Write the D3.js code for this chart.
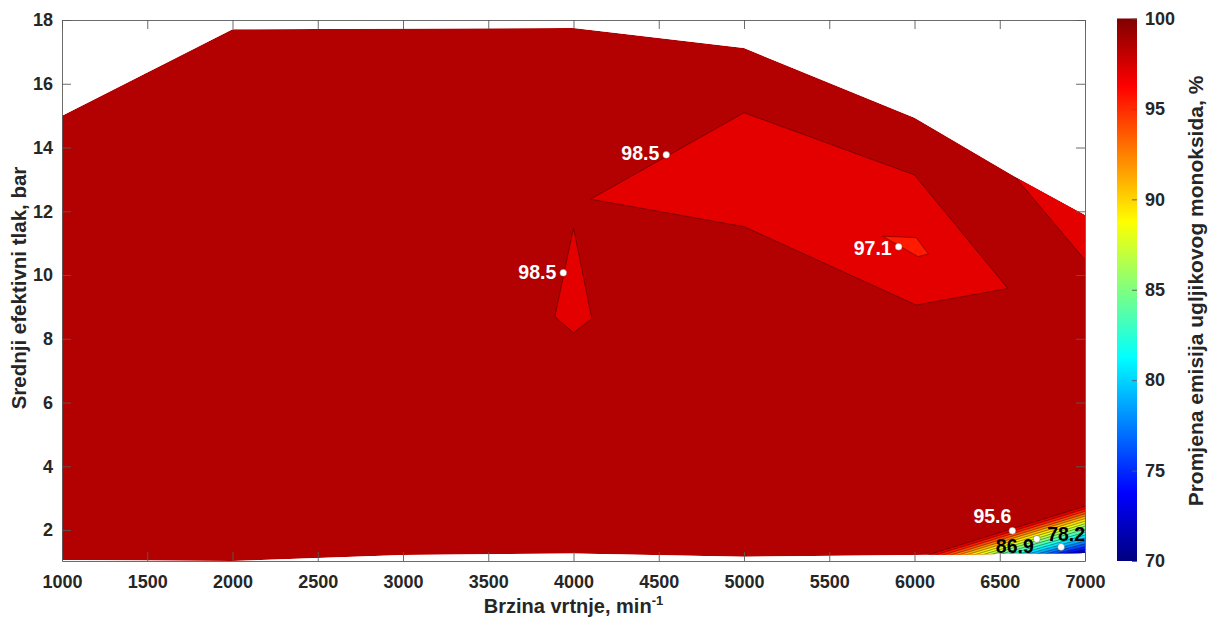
<!DOCTYPE html>
<html><head><meta charset="utf-8">
<script src="https://cdn.jsdelivr.net/npm/d3@7"></script>
<style>
body{margin:0;background:#fff;}
text{font-family:"Liberation Sans",Arial,sans-serif;font-weight:bold;fill:#262626;}
</style>
</head><body>
<svg id="chart" width="1210" height="625"></svg>
<script>
// ---------------- data ----------------
const xTicks = [1000,1500,2000,2500,3000,3500,4000,4500,5000,5500,6000,6500,7000];
const yTicks = [2,4,6,8,10,12,14,16,18];
const cbTicks = [70,75,80,85,90,95,100];

// outline of measured region (speed min^-1, BMEP bar) -> band >= 98.5
const hullSpeed = [1000,2000,4000,5000,6000,6590,7000,7000,6000,5000,4000,3000,2000,1000];
const hullBmep  = [15.0,17.71,17.75,17.12,14.93,13.08,11.88,1.28,1.22,1.165,1.265,1.22,1.03,1.06];
const hullLevel = 98.5;

// contour regions (level = lower bound of band)
const bigSpeed = [4100,5000,6000,6547,6010,5000];
const bigBmep  = [12.38,15.09,13.14,9.58,9.06,11.52];
const bigLevel = 97;

const spikeSpeed = [4000,4107,4000,3891];
const spikeBmep  = [11.47,8.64,8.19,8.69];
const spikeLevel = 97;

const edgeSpeed = [6590,7000,7000];
const edgeBmep  = [13.08,11.88,10.47];
const edgeLevel = 97;

const smallSpeed = [5813,6010,6082,6020];
const smallBmep  = [11.22,11.17,10.66,10.58];
const smallLevel = 95.5;

// steep region in bottom-right corner: contour levels, where each line meets bottom edge and right edge
const cornerLevels      = [98.5,97,95.5,94,92.5,91,89.5,88,86.5,85,83.5,82,80.5,79,77.5,76,74.5,73,71.5];
const cornerBottomSpeed = [6050,6097,6144,6191,6237,6284,6331,6378,6425,6478,6531,6583,6636,6689,6742,6795,6847,6894,6941];
const cornerEdgeBmep    = [2.85,2.77,2.69,2.61,2.54,2.46,2.38,2.30,2.22,2.13,2.03,1.94,1.85,1.75,1.66,1.56,1.47,1.39,1.33];

// labelled measurement points
const ptSpeed = [4544,3940,5907,6574,6717,6860];
const ptBmep  = [13.77,10.07,10.89,1.98,1.72,1.47];
const ptValue = [98.5,98.5,97.1,95.6,86.9,78.2];

// ---------------- layout / style ----------------
const labelStyle = [
  {dx:-7, dy:5.5, anchor:"end", fill:"#fff"},
  {dx:-7, dy:6.5, anchor:"end", fill:"#fff"},
  {dx:-7, dy:8.5, anchor:"end", fill:"#fff"},
  {dx:-1, dy:-7.5, anchor:"end", fill:"#fff"},
  {dx:-3, dy:13.5, anchor:"end", fill:"#000"},
  {dx:-14, dy:-5.5, anchor:"start", fill:"#000"}
];
const step = 1.5;

const svg = d3.select("#chart");
const x = d3.scaleLinear().domain([1000,7000]).range([62,1085]);
const y = d3.scaleLinear().domain([1.03,18]).range([561,20]);

function clamp(v){return Math.max(0,Math.min(1,v));}
function jet(t){
  const r = clamp(Math.min(4*t-1.5,-4*t+4.5));
  const g = clamp(Math.min(4*t-0.5,-4*t+3.5));
  const b = clamp(Math.min(4*t+0.5,-4*t+2.5));
  return d3.rgb(Math.round(r*255),Math.round(g*255),Math.round(b*255)).formatHex();
}
const color = d3.scaleSequential([70,100], jet);

const pts = (sx,sy)=> sx.map((v,i)=>[x(v),y(sy[i])]);
const line = d3.line();
const closed = d3.line().curve(d3.curveLinearClosed);

// clip to measured region
const defs = svg.append("defs");
defs.append("clipPath").attr("id","hullclip")
  .append("path").attr("d", closed(pts(hullSpeed,hullBmep)));

const plot = svg.append("g").attr("clip-path","url(#hullclip)");
plot.append("path").attr("d", closed(pts(hullSpeed,hullBmep))).attr("fill", color(hullLevel));

const cstroke = {stroke:"#000", w:0.6, op:0.6};
function region(sx, sy, lvl, outline){
  plot.append("path").attr("d", closed(pts(sx,sy))).attr("fill", color(lvl))
    .attr("stroke", outline? cstroke.stroke : "none")
    .attr("stroke-width", cstroke.w).attr("stroke-opacity", cstroke.op)
    .attr("stroke-linejoin","round");
}
region(bigSpeed,bigBmep,bigLevel,true);
region(spikeSpeed,spikeBmep,spikeLevel,true);
region(edgeSpeed,edgeBmep,edgeLevel,false);
plot.append("path").attr("d", line([[x(edgeSpeed[0]),y(edgeBmep[0])],[x(edgeSpeed[2]),y(edgeBmep[2])]]))
  .attr("fill","none").attr("stroke",cstroke.stroke).attr("stroke-width",cstroke.w).attr("stroke-opacity",cstroke.op);
region(smallSpeed,smallBmep,smallLevel,true);

// corner bands
const xMaxD = 7000, yLowD = 0.6;
function bottomAt(s){ // bottom boundary between 6000 and 7000
  return 1.22 + (s-6000)/1000*(1.28-1.22);
}
cornerLevels.forEach((lvl,i)=>{
  const bs = cornerBottomSpeed[i];
  const p = [[x(bs),y(bottomAt(bs)-0.05)],[x(xMaxD+50),y(cornerEdgeBmep[i]-0.02)],[x(xMaxD+50),y(yLowD)],[x(bs),y(yLowD)]];
  plot.append("path").attr("d", closed(p)).attr("fill", color(lvl-step));
});
cornerLevels.forEach((lvl,i)=>{
  const bs = cornerBottomSpeed[i];
  plot.append("path").attr("d", line([[x(bs),y(bottomAt(bs)-0.05)],[x(xMaxD+50),y(cornerEdgeBmep[i]-0.02)]]))
    .attr("fill","none").attr("stroke","#000").attr("stroke-width",0.55).attr("stroke-opacity",0.7);
});

// axes
const axColor = "#262626";
const frameColor = "#5a5a5a";
const gB = svg.append("g").attr("transform","translate(0,561)")
  .call(d3.axisBottom(x).tickValues(xTicks).tickSizeInner(-9).tickSizeOuter(0).tickPadding(14).tickFormat(d3.format("d")));
const gL = svg.append("g").attr("transform","translate(62,0)")
  .call(d3.axisLeft(y).tickValues(yTicks).tickSizeInner(-9).tickSizeOuter(0).tickPadding(9));
const gT = svg.append("g").attr("transform","translate(0,20)")
  .call(d3.axisTop(x).tickValues(xTicks).tickSizeInner(-9).tickSizeOuter(0).tickFormat(""));
const gR = svg.append("g").attr("transform","translate(1085,0)")
  .call(d3.axisRight(y).tickValues(yTicks).tickSizeInner(-9).tickSizeOuter(0).tickFormat(""));
[gB,gL,gT,gR].forEach(g=>{
  g.selectAll("path.domain").attr("stroke",frameColor).attr("stroke-width",0.9);
  g.selectAll(".tick line").attr("stroke",frameColor).attr("stroke-width",0.9);
  g.selectAll(".tick text").attr("fill",axColor).style("font-size","18px").style("font-family","'Liberation Sans',Arial,sans-serif").style("font-weight","bold");
});

// points + labels
const pg = svg.append("g");
ptValue.forEach((v,i)=>{
  const px = x(ptSpeed[i]), py = y(ptBmep[i]), st = labelStyle[i];
  pg.append("circle").attr("cx",px).attr("cy",py).attr("r",3.5)
    .attr("fill","#fff").attr("stroke","#444").attr("stroke-width",0.4);
  pg.append("text").attr("x",px+st.dx).attr("y",py+st.dy).attr("text-anchor",st.anchor)
    .style("font-size","19.5px").style("fill",st.fill).text(d3.format(".1f")(v));
});

// axis labels
const xl = svg.append("text").attr("x",573.5).attr("y",613).attr("text-anchor","middle").style("font-size","20px");
xl.append("tspan").text("Brzina vrtnje, min");
xl.append("tspan").attr("dy",-8).style("font-size","13px").text("-1");
svg.append("text").attr("transform","translate(26,288) rotate(-90)").attr("text-anchor","middle")
  .style("font-size","20.5px").text("Srednji efektivni tlak, bar");

// colorbar
const cb = d3.scaleLinear().domain([70,100]).range([561,18.5]);
const grad = defs.append("linearGradient").attr("id","jetgrad").attr("x1",0).attr("y1",1).attr("x2",0).attr("y2",0);
d3.range(0,1.0001,1/32).forEach(t=>{
  grad.append("stop").attr("offset",t).attr("stop-color",jet(t));
});
svg.append("rect").attr("x",1117).attr("y",cb(100)).attr("width",20).attr("height",cb(70)-cb(100))
  .attr("fill","url(#jetgrad)");
const gC = svg.append("g").attr("transform","translate(1137,0)")
  .call(d3.axisRight(cb).tickValues(cbTicks).tickSizeInner(-5).tickSizeOuter(0).tickPadding(8));
gC.selectAll("path.domain").attr("stroke","none");
gC.selectAll(".tick line").attr("stroke",frameColor).attr("stroke-width",0.9);
gC.selectAll(".tick text").attr("fill",axColor).style("font-size","18px").style("font-family","'Liberation Sans',Arial,sans-serif").style("font-weight","bold");
svg.append("text").attr("transform","translate(1195,291) rotate(-90)").attr("text-anchor","middle")
  .attr("dominant-baseline","central").style("font-size","21px").text("Promjena emisija ugljikovog monoksida, %");
</script>
</body></html>
